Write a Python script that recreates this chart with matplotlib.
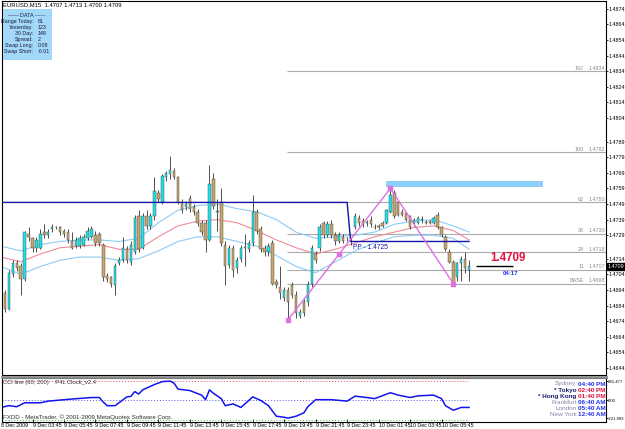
import matplotlib
matplotlib.use('Agg')
import matplotlib.pyplot as plt
import matplotlib.transforms as mtransforms
from matplotlib import font_manager
from matplotlib.patches import Rectangle
from matplotlib.lines import Line2D
import numpy as np

W, H = 625, 429


def fx(px):
    return px / W


def fy(py):
    return 1 - py / H


# --- M15 bars, EURUSD, index 0 = 9 Dec 01:45 ---
opens = [1.4697, 1.4692, 1.4682, 1.4704, 1.4711, 1.4709, 1.4701, 1.4730, 1.4727, 1.4721,
         1.4721, 1.4731, 1.4729, 1.4733, 1.4734, 1.4734, 1.4732, 1.4731, 1.4725, 1.4722,
         1.4722, 1.4723, 1.4727, 1.4728, 1.4729, 1.4730, 1.4723, 1.4703, 1.4702, 1.4697,
         1.4711, 1.4713, 1.4720, 1.4712, 1.4718, 1.4741, 1.4721, 1.4741, 1.4735, 1.4741,
         1.4756, 1.4750, 1.4766, 1.4768, 1.4770, 1.4766, 1.4750, 1.4747, 1.4753, 1.4747,
         1.4744, 1.4737, 1.4737, 1.4726, 1.4765, 1.4744, 1.4750, 1.4723, 1.4710, 1.4721,
         1.4708, 1.4714, 1.4721, 1.4720, 1.4724, 1.4744, 1.4733, 1.4721, 1.4718, 1.4724,
         1.4699, 1.4696, 1.4689, 1.4694, 1.4697, 1.4691, 1.4677, 1.4686, 1.4686, 1.4698,
         1.4717, 1.4721, 1.4737, 1.4729, 1.4736, 1.4729, 1.4725, 1.4728, 1.4727, 1.4725,
         1.4734, 1.4740, 1.4738, 1.4737, 1.4739, 1.4734, 1.4735, 1.4737, 1.4737, 1.4744,
         1.4756, 1.4750, 1.4744, 1.4743, 1.4741, 1.4737, 1.4737, 1.4739, 1.4737, 1.4738,
         1.4737, 1.4742, 1.4734, 1.4728, 1.4718, 1.4712, 1.4702, 1.4711, 1.4714, 1.4707]
highs = [1.4699, 1.4694, 1.4707, 1.4713, 1.4713, 1.4711, 1.4732, 1.4734, 1.4728, 1.4728,
         1.4733, 1.4736, 1.4733, 1.4736, 1.4735, 1.4735, 1.4733, 1.4733, 1.4731, 1.4728,
         1.4729, 1.4730, 1.4734, 1.4735, 1.4732, 1.4731, 1.4724, 1.4705, 1.4703, 1.4711,
         1.4715, 1.4728, 1.4722, 1.4725, 1.4742, 1.4745, 1.4743, 1.4745, 1.4743, 1.4766,
         1.4758, 1.4768, 1.4770, 1.4780, 1.4772, 1.4767, 1.4752, 1.4751, 1.4755, 1.4749,
         1.4746, 1.4739, 1.4739, 1.4774, 1.4769, 1.4752, 1.4759, 1.4725, 1.4723, 1.4723,
         1.4715, 1.4723, 1.4730, 1.4726, 1.4755, 1.4746, 1.4735, 1.4723, 1.4724, 1.4726,
         1.4701, 1.4709, 1.4696, 1.4696, 1.4699, 1.4693, 1.4682, 1.4688, 1.4700, 1.4723,
         1.4719, 1.4736, 1.4738, 1.4738, 1.4739, 1.4731, 1.4731, 1.4730, 1.4728, 1.4727,
         1.4743, 1.4742, 1.4740, 1.4739, 1.4741, 1.4736, 1.4736, 1.4738, 1.4746, 1.4759,
         1.4758, 1.4751, 1.4746, 1.4744, 1.4742, 1.4740, 1.4741, 1.4741, 1.4739, 1.4739,
         1.4741, 1.4744, 1.4735, 1.4729, 1.4720, 1.4713, 1.4712, 1.4716, 1.4718, 1.4713]
lows = [1.4689, 1.4680, 1.4681, 1.4702, 1.4706, 1.4691, 1.4700, 1.4725, 1.4718, 1.4718,
        1.4720, 1.4727, 1.4727, 1.4731, 1.4733, 1.4729, 1.4728, 1.4724, 1.4720, 1.4721,
        1.4721, 1.4722, 1.4726, 1.4727, 1.4722, 1.4722, 1.4700, 1.4699, 1.4696, 1.4691,
        1.4710, 1.4712, 1.4711, 1.4710, 1.4717, 1.4718, 1.4720, 1.4733, 1.4733, 1.4739,
        1.4750, 1.4749, 1.4764, 1.4765, 1.4765, 1.4749, 1.4743, 1.4745, 1.4744, 1.4742,
        1.4735, 1.4729, 1.4718, 1.4725, 1.4746, 1.4732, 1.4722, 1.4697, 1.4708, 1.4702,
        1.4705, 1.4712, 1.4709, 1.4718, 1.4722, 1.4730, 1.4718, 1.4716, 1.4716, 1.4697,
        1.4695, 1.4688, 1.4687, 1.4675, 1.4689, 1.4676, 1.4676, 1.4677, 1.4684, 1.4696,
        1.4711, 1.4719, 1.4727, 1.4728, 1.4727, 1.4723, 1.4724, 1.4724, 1.4725, 1.4723,
        1.4733, 1.4735, 1.4734, 1.4735, 1.4734, 1.4733, 1.4733, 1.4734, 1.4736, 1.4743,
        1.4740, 1.4741, 1.4741, 1.4738, 1.4733, 1.4735, 1.4736, 1.4737, 1.4736, 1.4736,
        1.4736, 1.4733, 1.4728, 1.4719, 1.4711, 1.4697, 1.4700, 1.4700, 1.4705, 1.4700]
closes = [1.4691, 1.4682, 1.4705, 1.4711, 1.4708, 1.4701, 1.4731, 1.4728, 1.4721, 1.4726,
          1.4730, 1.4729, 1.4731, 1.4734, 1.4734, 1.4731, 1.4730, 1.4726, 1.4721, 1.4726,
          1.4727, 1.4728, 1.4732, 1.4733, 1.4724, 1.4724, 1.4702, 1.4701, 1.4698, 1.4709,
          1.4713, 1.4721, 1.4713, 1.4723, 1.4740, 1.4720, 1.4741, 1.4735, 1.4741, 1.4757,
          1.4752, 1.4767, 1.4769, 1.4771, 1.4766, 1.4750, 1.4745, 1.4749, 1.4746, 1.4744,
          1.4737, 1.4731, 1.4726, 1.4762, 1.4748, 1.4744, 1.4724, 1.4709, 1.4721, 1.4707,
          1.4713, 1.4721, 1.4721, 1.4724, 1.4744, 1.4732, 1.4720, 1.4718, 1.4722, 1.4698,
          1.4697, 1.4692, 1.4694, 1.4686, 1.4691, 1.4679, 1.4680, 1.4679, 1.4698, 1.4721,
          1.4713, 1.4734, 1.4729, 1.4736, 1.4729, 1.4725, 1.4729, 1.4725, 1.4727, 1.4725,
          1.4741, 1.4737, 1.4736, 1.4737, 1.4736, 1.4734, 1.4734, 1.4735, 1.4745, 1.4755,
          1.4741, 1.4742, 1.4742, 1.4739, 1.4734, 1.4739, 1.4740, 1.4739, 1.4737, 1.4737,
          1.4740, 1.4734, 1.4729, 1.4720, 1.4712, 1.4698, 1.4711, 1.4714, 1.4708, 1.4709]

# envelope / band lines read at every 5th bar
band_idx = [0, 5, 10, 15, 20, 25, 30, 35, 40, 45, 50, 55, 60, 65, 70, 75, 80, 85, 90, 95,
            100, 105, 110, 115, 119]
band_upper = [1.4722, 1.4719, 1.4723, 1.4725, 1.4726, 1.4726, 1.4725, 1.4727, 1.4737, 1.4745,
              1.4748, 1.4749, 1.4746, 1.4744, 1.4739, 1.4731, 1.4727, 1.4728, 1.4729, 1.4731,
              1.4736, 1.4738, 1.4739, 1.4735, 1.4731]
band_mid = [1.4715, 1.4712, 1.4717, 1.4721, 1.4722, 1.4723, 1.4720, 1.4720, 1.4728, 1.4735,
            1.4738, 1.4739, 1.4737, 1.4732, 1.4726, 1.4721, 1.4717, 1.4720, 1.4724, 1.4728,
            1.4731, 1.4734, 1.4735, 1.4732, 1.4726]
band_lower = [1.4709, 1.4704, 1.4709, 1.4713, 1.4715, 1.4715, 1.4713, 1.4714, 1.4719, 1.4725,
              1.4728, 1.4728, 1.4725, 1.4722, 1.4716, 1.4709, 1.4705, 1.4712, 1.4719, 1.4724,
              1.4728, 1.4729, 1.4729, 1.4727, 1.4720]

# CCI(60) values
cci_idx = [0, 2, 4, 6, 10, 12, 17, 23, 25, 26, 27, 29, 32, 33, 34, 35, 36, 39, 41, 43,
           44, 45, 48, 51, 52, 53, 54, 56, 57, 59, 61, 62, 64, 66, 68, 70, 72, 73, 75, 77,
           78, 80, 81, 84, 88, 90, 93, 95, 99, 101, 104, 106, 110, 112, 113, 115, 117, 119]
cci_val = [-88, -66, -79, -30, -30, -9, 13, 36, 36, -22, -66, -66, 44, 50, 110, 79, 132, 198, 235, 241,
           215, 141, 123, 66, 9, 132, 89, 22, -66, -44, -88, -44, 44, 0, -66, -198, -211, -221, -198, -155,
           -79, 9, 9, 9, -9, 53, 36, 22, 96, 66, 36, 57, 66, 22, -66, -123, -88, -88]

price_ticks = [1.4874, 1.4864, 1.4854, 1.4844, 1.4834, 1.4824, 1.4814, 1.4804, 1.4789, 1.4779,
               1.4769, 1.4759, 1.4749, 1.4739, 1.4729, 1.4714, 1.4704, 1.4694, 1.4684, 1.4674,
               1.4664, 1.4654, 1.4644]
time_ticks = [8, 16, 24, 32, 40, 48, 56, 64, 72, 80, 88, 96, 104, 112]
time_labels = ['9 Dec 03:45', '9 Dec 05:45', '9 Dec 07:45', '9 Dec 09:45', '9 Dec 11:45',
               '9 Dec 13:45', '9 Dec 15:45', '9 Dec 17:45', '9 Dec 19:45', '9 Dec 21:45',
               '9 Dec 23:45', '10 Dec 01:45', '10 Dec 03:45', '10 Dec 05:45']

fib_names = ['162', '100', '62', '38', '24', '11', 'BASE']
fib_prices = [1.4834, 1.4782, 1.4750, 1.4730, 1.4718, 1.4707, 1.4698]

zz_idx = [73, 99, 115]
zz_price = [1.4675, 1.4759, 1.4698]

data_labels = ['Range Today:', 'Yesterday:', '30 Day:', 'Spread:', 'Swap Long:', 'Swap Short:']
data_values = ['61', '123', '148', '2', '0.08', '-0.01']

clock_cities = ['Sydney', '* Tokyo', '* Hong Kong', 'Frankfurt', 'London', 'New York']
clock_times = ['04:40 PM', '02:40 PM', '01:40 PM', '06:40 AM', '05:40 AM', '12:40 AM']
clock_open = [False, True, True, False, False, False]

XMIN, XMAX = 0.244, 153.82

# narrow font for the tiny terminal labels, if it is there
names = {f.name for f in font_manager.fontManager.ttflist}
NARROW = 'Liberation Sans Narrow' if 'Liberation Sans Narrow' in names else 'Liberation Sans'
plt.rcParams['font.family'] = [NARROW, 'DejaVu Sans']

fig = plt.figure(figsize=(6.25, 4.29), dpi=100)
fig.patch.set_facecolor('white')

# ---------------- main price pane ----------------
ax = fig.add_axes([fx(2), fy(375), (606 - 2) / W, (375 - 1) / H])
ax.set_xlim(XMIN, XMAX)
ax.set_ylim(1.463952, 1.487895)
for s in ax.spines.values():
    s.set_color('black')
    s.set_linewidth(0.8)

o = np.array(opens)
hi = np.array(highs)
lo = np.array(lows)
c = np.array(closes)
idx = np.arange(len(o))
up = c >= o

ax.vlines(idx, lo, hi, color='#333333', lw=0.6, zorder=3)
body_bot = np.minimum(o, c)
body_h = np.maximum(np.abs(c - o), 0.00002)
body_col = np.where(up, '#1FE2E8', '#C9A66C')
ax.bar(idx, body_h, 0.62, bottom=body_bot, color=body_col, edgecolor='#404040',
       linewidth=0.3, zorder=4)

ax.plot(band_idx, band_upper, color='#8DCBF3', lw=0.8, zorder=2)
ax.plot(band_idx, band_lower, color='#8DCBF3', lw=0.8, zorder=2)
ax.plot(band_idx, band_mid, color='#F08A96', lw=0.8, zorder=2)

# fibonacci levels
ax.hlines(fib_prices, zz_idx[0] - 0.3, XMAX, color='#ABABAB', lw=0.8, zorder=1)
blend = mtransforms.blended_transform_factory(ax.transAxes, ax.transData)
for name, p in zip(fib_names, fib_prices):
    ax.text((584 - 2) / 604, p + 0.00004, name, transform=blend, ha='right', va='bottom',
            fontsize=3.9, color='#8C8C8C')
    ax.text((605 - 2) / 604, p + 0.00004, f'{p:.4f}', transform=blend, ha='right', va='bottom',
            fontsize=3.9, color='#8C8C8C')

# pivot line
ax.plot([XMIN, 88, 88.9, 119], [1.4750, 1.4750, 1.4725, 1.4725], color='#1414A8', lw=1.0, zorder=5)
ax.text(89.6, 1.47235, 'PP - 1.4725', fontsize=4.8, color='#1414A8', va='top', ha='left', zorder=6)

# zigzag
ax.plot(zz_idx, zz_price, color='#E070E0', lw=1.0, zorder=6)
ax.plot([zz_idx[0], (zz_idx[0] + zz_idx[1]) / 2, zz_idx[1], zz_idx[2]],
        [zz_price[0], (zz_price[0] + zz_price[1]) / 2, zz_price[1], zz_price[2]],
        's', ms=2.4, mfc='#E070E0', mec='#E070E0', zorder=7)

# target zone rectangle
ax.add_patch(Rectangle((98, 1.4760), 39.8, 0.0004, facecolor='#8CCFF8', edgecolor='none', zorder=2))

# current price marker
ax.hlines(1.4709, 120.8, 130.2, color='black', lw=1.0, zorder=6)
ax.text(128.9, 1.47105, '1.4709', color='#E4103C', fontsize=8.3, fontweight='bold',
        family='Liberation Sans', ha='center', va='bottom', zorder=7)
ax.text(129.5, 1.47042, '04:17', color='#2233EE', fontsize=4.4, fontweight='bold',
        family='Liberation Sans', ha='center', va='center', zorder=7)

ax.set_xticks([])
ax.yaxis.tick_right()
ax.set_yticks(price_ticks)
ax.set_yticklabels([f'{v:.4f}' for v in price_ticks])
ax.tick_params(axis='y', labelsize=3.9, length=1.5, pad=0.5, width=0.6)
ax.text(1.0025, 1.4709, '1.4709', transform=blend, color='white', fontsize=3.9,
        ha='left', va='center', bbox=dict(boxstyle='square,pad=0.1', fc='black', ec='black'))

# ---------------- CCI pane ----------------
ax2 = fig.add_axes([fx(2), fy(422), (606 - 2) / W, 44 / H])
ax2.set_xlim(XMIN, XMAX)
ax2.set_ylim(-270, 280)
for s in ax2.spines.values():
    s.set_color('black')
    s.set_linewidth(0.8)
ax2.hlines(241.477, XMIN, 119, color='#F05050', lw=0.7, linestyles=(0, (1, 2)))
ax2.hlines(0, XMIN, 119, color='#5555F0', lw=0.7, linestyles=(0, (1, 2)))
ax2.hlines(-250, XMIN, 119, color='#55B055', lw=0.7, linestyles=(0, (1, 2)))
ax2.plot(cci_idx, cci_val, color='#1414F0', lw=1.1)

ax2.yaxis.tick_right()
ax2.set_yticks([241.477, 0, -221.003])
ax2.set_yticklabels(['241.477', '0.00', '-221.003'])
ax2.tick_params(axis='y', labelsize=3.1, length=1.2, pad=0.4, width=0.6)
ax2.set_xticks(time_ticks)
ax2.set_xticklabels(time_labels, ha='left')
ax2.tick_params(axis='x', labelsize=3.8, length=2, pad=0.8, width=0.6, direction='in')

fig.text(fx(3), fy(382.3), 'CCI line (60; 200)    P4L Clock_v2.4', fontsize=4.2,
         color='#303030', va='center', ha='left')
fig.text(fx(3), fy(416.7), 'FXDD - MetaTrader, \u00a9 2001-2009 MetaQuotes Software Corp.',
         fontsize=4.4, color='#303030', va='center', ha='left')
fig.text(fx(1), fy(425.7), '8 Dec 2009', fontsize=3.8, va='center', ha='left')

# clock
for k, (city, t, op) in enumerate(zip(clock_cities, clock_times, clock_open)):
    yy = 384 + k * 6.2
    fig.text(fx(576.5), fy(yy), city, fontsize=4.6, ha='right', va='center',
             color='#1C1C70' if op else '#8686A6', fontweight='bold' if op else 'normal')
    fig.text(fx(578.5), fy(yy), t, fontsize=4.6, ha='left', va='center',
             color='#E0103C' if op else '#2233EE', fontweight='bold')

# separator between panes
fig.add_artist(Line2D([fx(2), fx(606)], [fy(376.5), fy(376.5)], color='#8C8C8C', lw=2))

# header and data box
fig.text(fx(3), fy(5), 'EURUSD,M15  1.4707 1.4713 1.4700 1.4709', fontsize=4.2,
         ha='left', va='center', color='black')
fig.add_artist(Rectangle((fx(2.5), fy(59.5)), fx(52) - fx(2.5), fy(9.3) - fy(59.5),
                         transform=fig.transFigure, facecolor='#A3D8F8', edgecolor='none'))
fig.text(fx(27), fy(15.7), '------ DATA ------', fontsize=3.9, ha='center', va='center',
         color='#1A1A40')
for k, (lab, val) in enumerate(zip(data_labels, data_values)):
    yy = 21.7 + k * 5.9
    fig.text(fx(33.5), fy(yy), lab, fontsize=3.8, ha='right', va='center', color='#1A1A40')
    fig.text(fx(37.3), fy(yy), val, fontsize=3.8, ha='left', va='center', color='#1A1A40')

fig.savefig('out.png', dpi=100, facecolor='white')
